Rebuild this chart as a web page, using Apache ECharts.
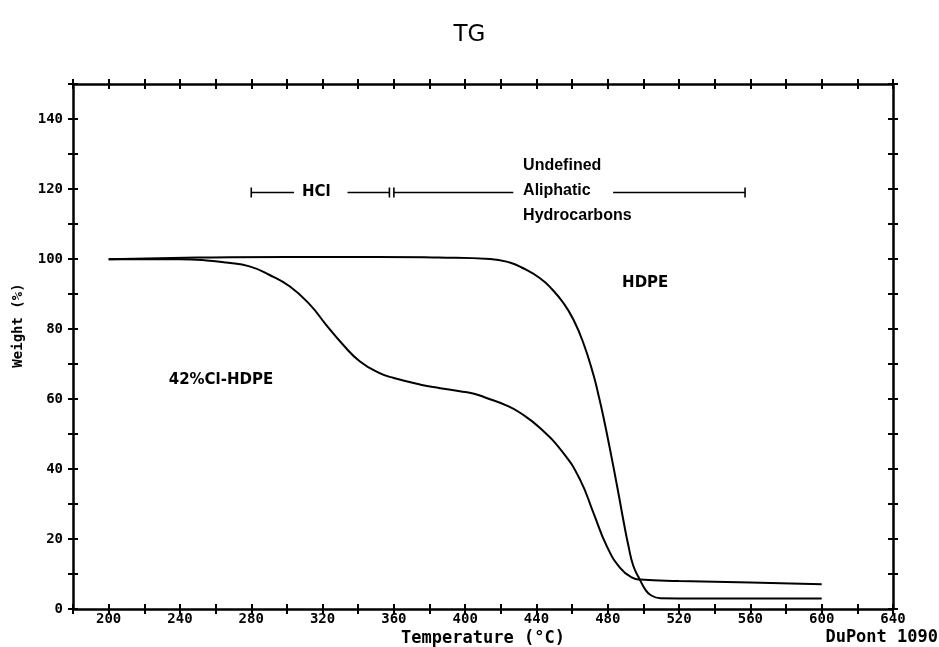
<!DOCTYPE html>
<html>
<head>
<meta charset="utf-8">
<script src="https://cdn.jsdelivr.net/npm/echarts@6/dist/echarts.min.js"></script>
<style>html,body{margin:0;padding:0;background:#fff;}#chart{width:939px;height:647px;}</style>
</head>
<body>
<div id="chart"></div>
<script>
// ---- Data ----
const hdpeTemp   = [200, 250, 300, 350, 385, 414, 425, 432, 442, 449, 455, 460.7, 466.3, 471.9, 474.7, 477.5, 481.3, 486, 488.8, 491.6, 494.4, 498, 501, 504, 509.4, 530, 560, 600];
const hdpeWeight = [99.9, 100.4, 100.6, 100.6, 100.4, 100.0, 99.0, 97.5, 94.5, 91.2, 87.5, 82.7, 76.0, 67.0, 61.3, 55.0, 45.5, 33.0, 25.2, 18.0, 12.2, 8.4, 5.6, 4.0, 3.1, 3.0, 3.0, 3.0];

const clTemp   = [200, 240, 255, 266, 279, 290, 301.5, 313, 322, 331.5, 341, 352, 360, 375, 386, 397, 405, 412, 423, 431, 442, 455, 464.5, 472, 479.5, 487, 494, 498, 520, 560, 600];
const clWeight = [99.9, 99.9, 99.6, 99.0, 97.9, 95.5, 92.2, 86.9, 81.2, 75.5, 70.7, 67.4, 66.0, 64.1, 63.1, 62.2, 61.5, 60.3, 58.2, 56.0, 51.7, 44.6, 36.9, 27.4, 17.9, 11.7, 8.9, 8.4, 8.0, 7.6, 7.1];

// annotation bar (range markers) – segments and end ticks in °C, at weight level
const rangeLevel = 119;
const rangeSegments = [[280, 304], [334, 357.5], [360, 427], [483, 557]];
const rangeTicks = [280, 357.5, 360, 557];

// text labels: [name, temperature, weight]
const labelNames = ['42%Cl-HDPE', 'HDPE', 'HCl'];
const labelTemps = [263, 501, 316.5];
const labelWeights = [65.5, 93, 119];
const rangeText = 'Undefined\nAliphatic\nHydrocarbons';
const rangeTextPos = [432.5, 119.5];

const xTicks = [200, 240, 280, 320, 360, 400, 440, 480, 520, 560, 600, 640];
const yTicks = [0, 20, 40, 60, 80, 100, 120, 140];

// ---- Build chart ----
const chart = echarts.init(document.getElementById('chart'));
const black = '#000';
const monoFont = '"DejaVu Sans Mono", monospace';

function xAx(pos, inside, main) {
  return {
    type: 'value', position: pos, min: 180, max: 640, interval: 20,
    axisLine: { show: main, onZero: false, lineStyle: { color: black, width: 2.5 } },
    axisTick: { show: true, inside: inside, length: 5, lineStyle: { color: black, width: 2 } },
    axisLabel: (main && pos === 'bottom') ? {
      show: true, margin: 3, color: black, fontFamily: monoFont, fontWeight: 'bold', fontSize: 14,
      formatter: v => xTicks.indexOf(v) >= 0 ? String(v) : ''
    } : { show: false },
    splitLine: { show: false },
    name: (main && pos === 'bottom') ? 'Temperature (°C)' : '',
    nameLocation: 'middle', nameGap: 21, nameMoveOverlap: false,
    nameTextStyle: { color: black, fontFamily: monoFont, fontWeight: 'bold', fontSize: 17 }
  };
}
function yAx(pos, inside, main) {
  return {
    type: 'value', position: pos, min: 0, max: 150, interval: 10,
    axisLine: { show: main, onZero: false, lineStyle: { color: black, width: 2.5 } },
    axisTick: { show: true, inside: inside, length: 5, lineStyle: { color: black, width: 2 } },
    axisLabel: (main && pos === 'left') ? {
      show: true, margin: 10, color: black, fontFamily: monoFont, fontWeight: 'bold', fontSize: 14,
      formatter: v => yTicks.indexOf(v) >= 0 ? String(v) : ''
    } : { show: false },
    splitLine: { show: false },
    name: (main && pos === 'left') ? 'Weight (%)' : '',
    nameLocation: 'middle', nameGap: 48, nameRotate: 90, nameMoveOverlap: false,
    nameTextStyle: { color: black, fontFamily: monoFont, fontWeight: 'bold', fontSize: 14, padding: [0, 0, 0, 42] }
  };
}

const curveStyle = { color: black, width: 2 };
const series = [
  {
    type: 'line', name: 'HDPE', data: hdpeTemp.map((t, i) => [t, hdpeWeight[i]]),
    smooth: 0.5, showSymbol: false, lineStyle: curveStyle, itemStyle: { color: black }, z: 5
  },
  {
    type: 'line', name: '42%Cl-HDPE', data: clTemp.map((t, i) => [t, clWeight[i]]),
    smooth: 0.5, showSymbol: false, lineStyle: curveStyle, itemStyle: { color: black }, z: 5
  }
];
rangeSegments.forEach(seg => {
  series.push({
    type: 'line', data: [[seg[0], rangeLevel], [seg[1], rangeLevel]],
    showSymbol: false, lineStyle: { color: black, width: 1.5 }, silent: true
  });
});
series.push({
  type: 'scatter', data: rangeTicks.map(t => [t, rangeLevel]),
  symbol: 'rect', symbolSize: [1.6, 10], itemStyle: { color: black, opacity: 1 }, silent: true
});
series.push({
  type: 'scatter', symbolSize: 0, silent: true, itemStyle: { opacity: 1 },
  data: labelNames.map((n, i) => ({ name: n, value: [labelTemps[i], labelWeights[i]] })),
  label: {
    show: true, position: 'inside', formatter: p => p.name, opacity: 1,
    color: black, fontFamily: '"DejaVu Sans", sans-serif', fontWeight: 'bold', fontSize: 15
  }
});
series.push({
  type: 'scatter', symbolSize: 0, silent: true, itemStyle: { opacity: 1 },
  data: [{ name: rangeText, value: rangeTextPos }],
  label: {
    show: true, position: 'right', distance: 0, formatter: p => p.name, align: 'left', opacity: 1,
    lineHeight: 25, color: black, fontFamily: '"Liberation Sans", Arial, sans-serif', fontWeight: 'bold', fontSize: 16
  }
});

chart.setOption({
  animation: false,
  backgroundColor: '#fff',
  title: {
    text: 'TG', left: 'center', top: 19,
    textStyle: { color: black, fontFamily: '"DejaVu Sans", sans-serif', fontWeight: 'normal', fontSize: 23 }
  },
  grid: { left: 73, right: 46, top: 84, bottom: 38, outerBoundsMode: 'none', containLabel: false },
  xAxis: [xAx('bottom', false, true), xAx('bottom', true, false), xAx('top', false, true), xAx('top', true, false)],
  yAxis: [yAx('left', false, true), yAx('left', true, false), yAx('right', false, true), yAx('right', true, false)],
  graphic: [{
    type: 'text', right: 1, bottom: 1,
    style: { text: 'DuPont 1090', fill: black, font: 'bold 17px "DejaVu Sans Mono", monospace' }
  }],
  series: series
});
</script>
</body>
</html>
